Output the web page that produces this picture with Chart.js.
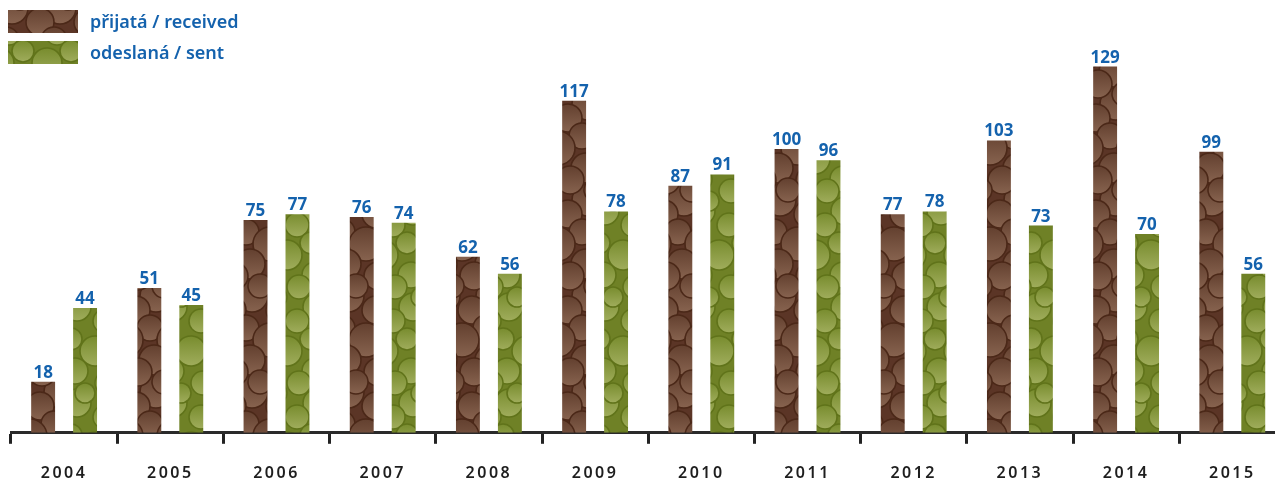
<!DOCTYPE html>
<html>
<head>
<meta charset="utf-8">
<script src="https://cdn.jsdelivr.net/npm/chart.js@4.4.1/dist/chart.umd.min.js"></script>
<style>
  html, body { margin: 0; padding: 0; background: #fff; overflow: hidden; }
  #wrap { width: 1275px; height: 479px; overflow: hidden; }
</style>
</head>
<body>
<div id="wrap"><canvas id="chart" width="1290" height="503"></canvas></div>
<script>
// Letters received and sent per year
const years = ['2004', '2005', '2006', '2007', '2008', '2009', '2010', '2011', '2012', '2013', '2014', '2015'];
const received = [18, 51, 75, 76, 62, 117, 87, 100, 77, 103, 129, 99];
const sent = [44, 45, 77, 74, 56, 78, 91, 96, 78, 73, 70, 56];
const seriesNames = ['přijatá / received', 'odeslaná / sent'];

const blue = '#1462ad';

// Bubble texture tile for the bars: overlapping shaded circles with dark rims
function makePattern(base, ring, hiTop, hiBottom, circles) {
    const c = document.createElement('canvas');
    c.width = 48;
    c.height = 96;
    const g = c.getContext('2d');
    g.fillStyle = base;
    g.fillRect(0, 0, c.width, c.height);
    circles.forEach(([x, y, r]) => {
        [-96, 0, 96].forEach(dy => {
            [-48, 0, 48].forEach(dx => {
                const cx = x + dx, cy = y + dy;
                const fill = g.createLinearGradient(0, cy - r, 0, cy + r);
                fill.addColorStop(0, hiTop);
                fill.addColorStop(1, hiBottom);
                g.beginPath();
                g.arc(cx, cy, r, 0, Math.PI * 2);
                g.fillStyle = fill;
                g.fill();
                g.lineWidth = 1.6;
                g.strokeStyle = ring;
                g.stroke();
            });
        });
    });
    return g.createPattern(c, 'repeat');
}

const ctx = document.getElementById('chart').getContext('2d');

const bubbles = [[12, 8, 16], [40, 22, 14], [6, 40, 13], [30, 52, 17], [10, 72, 15], [42, 84, 14], [20, 94, 12]];
const brownPattern = makePattern('#5b3526', '#4b2818', '#63402f', '#87634f', bubbles);
const greenPattern = makePattern('#6f8126', '#60731a', '#788c2e', '#a0ad5c',
    bubbles.map(([x, y, r]) => [(x + 17) % 48, (y + 11) % 96, r - 2]));
const patterns = [brownPattern, greenPattern];

// Value labels above each bar
const valueLabels = {
    id: 'valueLabels',
    afterDatasetsDraw(chart) {
        const c = chart.ctx;
        c.save();
        c.font = 'bold 17px "Noto Sans", sans-serif';
        c.fillStyle = blue;
        c.textAlign = 'center';
        c.textBaseline = 'alphabetic';
        chart.data.datasets.forEach((ds, i) => {
            chart.getDatasetMeta(i).data.forEach((bar, j) => {
                c.fillText(String(ds.data[j]), bar.x, bar.y - 4);
            });
        });
        c.restore();
    }
};

// Legend in the top-left corner
const cornerLegend = {
    id: 'cornerLegend',
    afterDraw(chart) {
        const c = chart.ctx;
        c.save();
        c.font = '600 18px "Noto Sans", sans-serif';
        c.textBaseline = 'alphabetic';
        seriesNames.forEach((name, i) => {
            const y = 10 + i * 31;
            c.fillStyle = patterns[i];
            c.fillRect(8, y, 70, 23);
            c.fillStyle = blue;
            c.fillText(name, 90, y + 18);
        });
        c.restore();
    }
};

// Year labels are set with wider letter spacing
const spacedTicks = {
    id: 'spacedTicks',
    beforeDraw(chart) { chart.ctx.letterSpacing = '2.5px'; },
    beforeDatasetsDraw(chart) { chart.ctx.letterSpacing = '0px'; }
};

new Chart(ctx, {
    type: 'bar',
    data: {
        labels: years,
        datasets: [{
            label: seriesNames[0],
            data: received,
            backgroundColor: brownPattern
        }, {
            label: seriesNames[1],
            data: sent,
            backgroundColor: greenPattern
        }]
    },
    options: {
        responsive: false,
        animation: false,
        categoryPercentage: 0.79,
        barPercentage: 0.57,
        layout: { padding: { left: 11, right: 4.6, top: 7, bottom: 0 } },
        scales: {
            x: {
                grid: {
                    offset: true,
                    drawOnChartArea: false,
                    drawTicks: true,
                    tickLength: 11,
                    lineWidth: 3,
                    color: '#222'
                },
                border: { display: true, width: 3, color: '#2a2a2a' },
                ticks: {
                    padding: 20,
                    color: '#1e1e1e',
                    font: { family: '"Noto Sans", sans-serif', size: 16, weight: '600' }
                }
            },
            y: {
                display: false,
                min: 0,
                max: 150
            }
        },
        plugins: {
            legend: { display: false },
            tooltip: { enabled: false }
        }
    },
    plugins: [spacedTicks, valueLabels, cornerLegend]
});
</script>
</body>
</html>
